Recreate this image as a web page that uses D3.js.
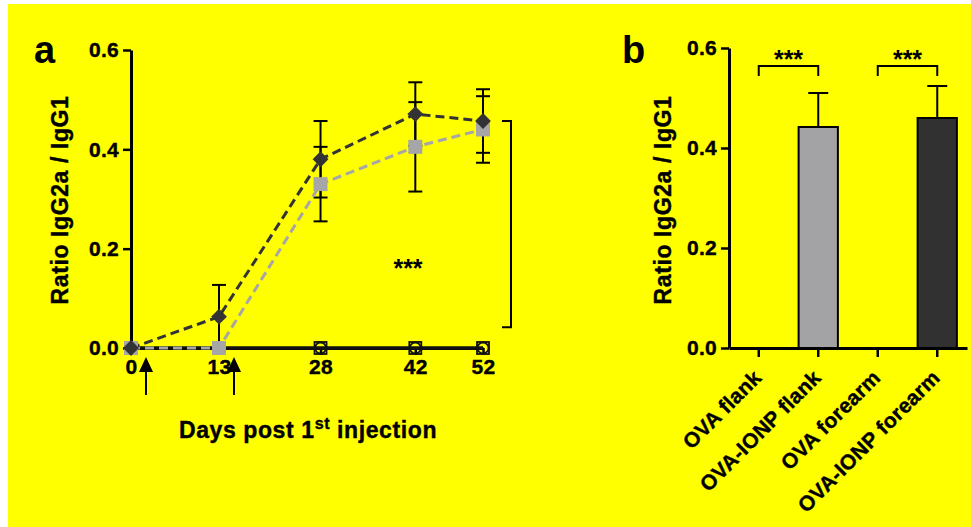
<!DOCTYPE html>
<html>
<head>
<meta charset="utf-8">
<script src="https://cdn.jsdelivr.net/npm/d3@7"></script>
<style>
  body { margin: 0; background: #fff; }
  svg { display: block; font-family: "Liberation Sans", Arial, sans-serif; font-weight: bold; }
</style>
</head>
<body>
<script>
// data
const days = [0, 13, 28, 42, 52];
const ionpFlank = [0, 0, 0.33, 0.405, 0.44];
const ionpFlankErr = [0, 0, 0.075, 0.09, 0.067];
const ionpForearm = [0, 0.063, 0.38, 0.471, 0.457];
const ionpForearmErr = [0, 0.064, 0.077, 0.064, 0.064];
const ovaFlank = [0, 0, 0, 0, 0];
const ovaForearm = [0, 0, 0, 0, 0];
const injectionDays = [0, 13];
const yTicks = [0, 0.2, 0.4, 0.6];

const categories = ['OVA flank', 'OVA-IONP flank', 'OVA forearm', 'OVA-IONP forearm'];
const barMeans = [0, 0.442, 0, 0.46];
const barErr = [0, 0.068, 0, 0.064];

// constants
const W = 971;
const H = 527;
const dark = '#333333';
const light = '#a6a6a6';
const font = '"Liberation Sans", Arial, sans-serif';

const svg = d3.select('body').append('svg')
  .attr('width', W)
  .attr('height', H);

svg.append('rect')
  .attr('x', 8).attr('y', 4)
  .attr('width', W - 8).attr('height', H - 4)
  .attr('fill', '#ffff00');

// shared axis styling (heavier, wider labels like the original)
const styleAxis = (ax) => {
  ax.select('.domain').attr('stroke', '#000').attr('stroke-width', 3);
  ax.selectAll('.tick line').attr('stroke', '#000').attr('stroke-width', 2.5);
  ax.selectAll('.tick text')
    .attr('fill', '#000')
    .attr('font-size', 21)
    .attr('font-weight', 'bold')
    .attr('font-family', font)
    .attr('letter-spacing', 0.3)
    .attr('stroke', '#000')
    .attr('stroke-width', 0.4);
};

// ---------- panel a ----------
const xA = d3.scaleLinear().domain([0, 52]).range([131, 483]);
const yA = d3.scaleLinear().domain([0, 0.6]).range([348, 50]);

const gA = svg.append('g');

const axisYA = gA.append('g')
  .attr('transform', `translate(${xA(0)},0)`)
  .call(d3.axisLeft(yA).tickValues(yTicks).tickFormat(d3.format('.1f')).tickSize(8).tickSizeOuter(0));
const axisXA = gA.append('g')
  .attr('transform', `translate(0,${yA(0)})`)
  .call(d3.axisBottom(xA).tickValues(days).tickFormat(d3.format('d')).tickSize(7).tickSizeOuter(0));

styleAxis(axisYA);
styleAxis(axisXA);
axisYA.selectAll('.tick text').attr('x', -12);
axisXA.selectAll('.tick text').attr('y', 11);

const line = d3.line().x((d) => xA(d[0])).y((d) => yA(d[1]));

// zero series (OVA alone), solid black
[ovaFlank, ovaForearm].forEach((vals) => {
  gA.append('path')
    .datum(days.map((d, i) => [d, vals[i]]))
    .attr('d', line)
    .attr('fill', 'none')
    .attr('stroke', '#111')
    .attr('stroke-width', 3);
});

const drawErr = (vals, errs, color) => {
  days.forEach((d, i) => {
    if (!errs[i]) return;
    const top = vals[i] + errs[i];
    const bot = Math.max(0, vals[i] - errs[i]);
    gA.append('line')
      .attr('x1', xA(d)).attr('x2', xA(d))
      .attr('y1', yA(top)).attr('y2', yA(bot))
      .attr('stroke', color).attr('stroke-width', 2);
    [top, bot].forEach((v) => {
      if (v <= 0) return;
      gA.append('line')
        .attr('x1', xA(d) - 7).attr('x2', xA(d) + 7)
        .attr('y1', yA(v)).attr('y2', yA(v))
        .attr('stroke', color).attr('stroke-width', 2);
    });
  });
};

drawErr(ionpFlank, ionpFlankErr, '#000');
drawErr(ionpForearm, ionpForearmErr, '#000');

// dashed series
gA.append('path')
  .datum(days.map((d, i) => [d, ionpFlank[i]]))
  .attr('d', line)
  .attr('fill', 'none')
  .attr('stroke', light)
  .attr('stroke-width', 3)
  .attr('stroke-dasharray', '9,5');
gA.append('path')
  .datum(days.map((d, i) => [d, ionpForearm[i]]))
  .attr('d', line)
  .attr('fill', 'none')
  .attr('stroke', dark)
  .attr('stroke-width', 3)
  .attr('stroke-dasharray', '9,5');

// open markers for OVA alone
days.forEach((d, i) => {
  gA.append('rect')
    .attr('x', xA(d) - 6).attr('y', yA(ovaForearm[i]) - 6)
    .attr('width', 12).attr('height', 12)
    .attr('fill', 'none').attr('stroke', '#111').attr('stroke-width', 1.8);
  gA.append('circle')
    .attr('cx', xA(d)).attr('cy', yA(ovaFlank[i]))
    .attr('r', 5.5)
    .attr('fill', 'none').attr('stroke', '#111').attr('stroke-width', 1.8);
});

// squares (OVA-IONP flank)
gA.selectAll('.sq')
  .data(days)
  .join('rect')
  .attr('class', 'sq')
  .attr('x', (d) => xA(d) - 7)
  .attr('y', (d, i) => yA(ionpFlank[i]) - 7)
  .attr('width', 14).attr('height', 14)
  .attr('fill', light);

// diamonds (OVA-IONP forearm)
gA.selectAll('.dia')
  .data(days)
  .join('path')
  .attr('class', 'dia')
  .attr('d', d3.symbol(d3.symbolSquare, 125))
  .attr('transform', (d, i) => `translate(${xA(d)},${yA(ionpForearm[i])}) rotate(45)`)
  .attr('fill', dark);

// injection arrows
injectionDays.forEach((d) => {
  const ax = xA(d) + 15;
  gA.append('line')
    .attr('x1', ax).attr('x2', ax)
    .attr('y1', 368).attr('y2', 395)
    .attr('stroke', '#000').attr('stroke-width', 2);
  gA.append('path')
    .attr('d', `M${ax},357 L${ax - 7},372 L${ax + 7},372 Z`)
    .attr('fill', '#000');
});

// significance bracket
const bx = 511;
gA.append('path')
  .attr('d', `M${bx - 9},${yA(0.457)} H${bx} V${yA(0.042)} H${bx - 9}`)
  .attr('fill', 'none').attr('stroke', '#000').attr('stroke-width', 2);
gA.append('text')
  .attr('x', 408).attr('y', 277)
  .attr('text-anchor', 'middle')
  .attr('font-size', 25)
  .text('***');

// axis titles
gA.append('text')
  .attr('transform', 'translate(68,200) rotate(-90)')
  .attr('text-anchor', 'middle')
  .attr('font-size', 23)
  .attr('letter-spacing', 0.6)
  .attr('stroke', '#000').attr('stroke-width', 0.4)
  .text('Ratio IgG2a / IgG1');

const xt = gA.append('text')
  .attr('x', 308).attr('y', 438)
  .attr('text-anchor', 'middle')
  .attr('font-size', 23)
  .attr('letter-spacing', 0.6)
  .attr('stroke', '#000').attr('stroke-width', 0.4);
xt.append('tspan').text('Days post 1');
xt.append('tspan').attr('dy', -9).attr('font-size', 16).text('st');
xt.append('tspan').attr('dy', 9).text(' injection');

gA.append('text')
  .attr('x', 34).attr('y', 63)
  .attr('font-size', 38)
  .text('a');

// ---------- panel b ----------
const xB = d3.scaleBand().domain(categories).range([729, 967]).paddingInner(0.34).paddingOuter(0.17);
const yB = d3.scaleLinear().domain([0, 0.6]).range([348, 48]);
const gB = svg.append('g');

const axisYB = gB.append('g')
  .attr('transform', 'translate(729,0)')
  .call(d3.axisLeft(yB).tickValues(yTicks).tickFormat(d3.format('.1f')).tickSize(8).tickSizeOuter(0));
const axisXB = gB.append('g')
  .attr('transform', `translate(0,${yB(0)})`)
  .call(d3.axisBottom(xB).tickSize(9).tickSizeOuter(0));

styleAxis(axisYB);
styleAxis(axisXB);
axisYB.selectAll('.tick text').attr('x', -12);
axisXB.selectAll('.tick text')
  .attr('text-anchor', 'end')
  .attr('y', 0).attr('dy', 0)
  .attr('transform', 'translate(4,31) rotate(-45)');

// bars
const barFill = ['#ffff00', '#a3a3a6', '#ffff00', '#313131'];
gB.selectAll('.bar')
  .data(categories)
  .join('rect')
  .attr('class', 'bar')
  .attr('x', (d) => xB(d))
  .attr('y', (d, i) => yB(barMeans[i]))
  .attr('width', xB.bandwidth())
  .attr('height', (d, i) => yB(0) - yB(barMeans[i]))
  .attr('fill', (d, i) => barFill[i])
  .attr('stroke', '#000')
  .attr('stroke-width', (d, i) => (barMeans[i] > 0 ? 2 : 0));

categories.forEach((c, i) => {
  if (!barErr[i]) return;
  const cx = xB(c) + xB.bandwidth() / 2;
  gB.append('line')
    .attr('x1', cx).attr('x2', cx)
    .attr('y1', yB(barMeans[i])).attr('y2', yB(barMeans[i] + barErr[i]))
    .attr('stroke', '#000').attr('stroke-width', 2);
  gB.append('line')
    .attr('x1', cx - 10).attr('x2', cx + 10)
    .attr('y1', yB(barMeans[i] + barErr[i])).attr('y2', yB(barMeans[i] + barErr[i]))
    .attr('stroke', '#000').attr('stroke-width', 2);
});

// comparison brackets
[[0, 1], [2, 3]].forEach(([a, b]) => {
  const x1 = xB(categories[a]) + xB.bandwidth() / 2;
  const x2 = xB(categories[b]) + xB.bandwidth() / 2;
  gB.append('path')
    .attr('d', `M${x1},76 V66 H${x2} V76`)
    .attr('fill', 'none').attr('stroke', '#000').attr('stroke-width', 2);
  gB.append('text')
    .attr('x', (x1 + x2) / 2).attr('y', 68)
    .attr('text-anchor', 'middle')
    .attr('font-size', 25)
    .text('***');
});

gB.append('text')
  .attr('transform', 'translate(671,200) rotate(-90)')
  .attr('text-anchor', 'middle')
  .attr('font-size', 23)
  .attr('letter-spacing', 0.6)
  .attr('stroke', '#000').attr('stroke-width', 0.4)
  .text('Ratio IgG2a / IgG1');

gB.append('text')
  .attr('x', 622).attr('y', 63)
  .attr('font-size', 38)
  .text('b');
</script>
</body>
</html>
